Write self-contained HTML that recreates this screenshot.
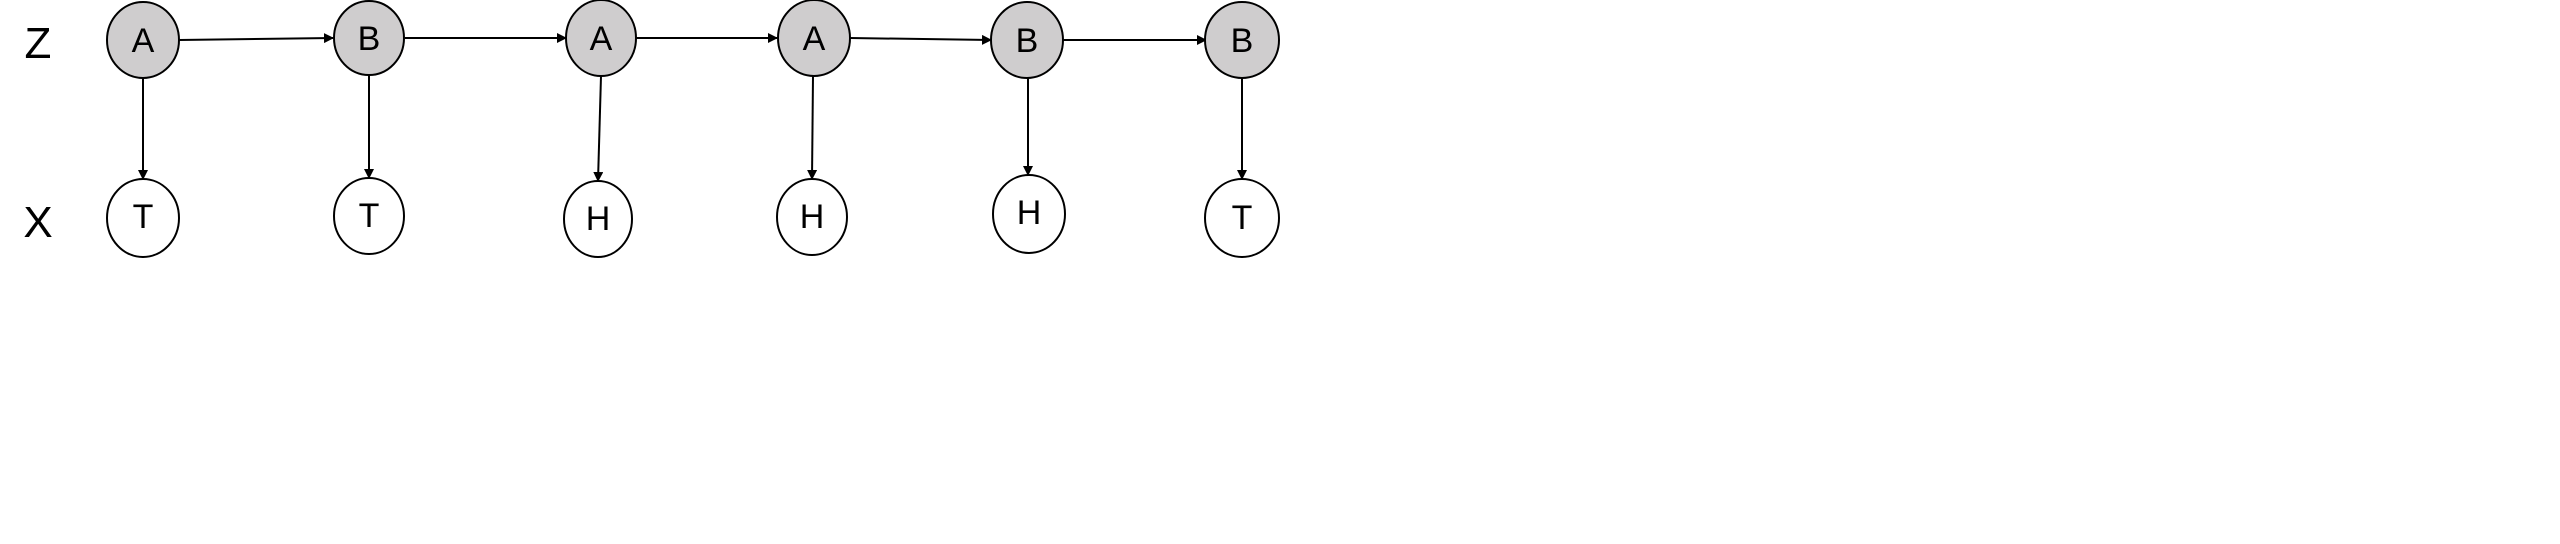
<!DOCTYPE html>
<html><head><meta charset="utf-8"><style>
html,body{margin:0;padding:0;background:#fff;width:2560px;height:544px;overflow:hidden}
svg{display:block}
text{font-family:"Liberation Sans","DejaVu Sans",sans-serif;fill:#000}
</style></head><body>
<svg width="2560" height="544" viewBox="0 0 2560 544" xmlns="http://www.w3.org/2000/svg">
<defs><marker id="ar" markerWidth="10" markerHeight="10" refX="9" refY="5" orient="auto" markerUnits="userSpaceOnUse">
<path d="M0,0 L10,5 L0,10 z" fill="#000"/></marker></defs>
<text x="38" y="58" font-size="44" text-anchor="middle">Z</text>
<text x="38" y="237" font-size="44" text-anchor="middle">X</text>
<g stroke="#000" stroke-width="2" fill="none">
<line x1="179" y1="40" x2="333" y2="38" marker-end="url(#ar)"/>
<line x1="405" y1="38" x2="566" y2="38" marker-end="url(#ar)"/>
<line x1="636" y1="38" x2="777" y2="38" marker-end="url(#ar)"/>
<line x1="850" y1="38" x2="991" y2="40" marker-end="url(#ar)"/>
<line x1="1063" y1="40" x2="1206" y2="40" marker-end="url(#ar)"/>
<line x1="143" y1="78" x2="143" y2="179" marker-end="url(#ar)"/>
<line x1="369" y1="75" x2="369" y2="178" marker-end="url(#ar)"/>
<line x1="601" y1="76" x2="598" y2="181" marker-end="url(#ar)"/>
<line x1="813" y1="76" x2="812" y2="179" marker-end="url(#ar)"/>
<line x1="1028" y1="78" x2="1028" y2="175" marker-end="url(#ar)"/>
<line x1="1242" y1="78" x2="1242" y2="179" marker-end="url(#ar)"/>
</g>
<g stroke="#000" stroke-width="2" fill="#cfcdce">
<ellipse cx="143" cy="40" rx="36" ry="38"/>
<ellipse cx="369" cy="38" rx="35" ry="37"/>
<ellipse cx="601" cy="38" rx="35" ry="38"/>
<ellipse cx="814" cy="38" rx="36" ry="38"/>
<ellipse cx="1027" cy="40" rx="36" ry="38"/>
<ellipse cx="1242" cy="40" rx="37" ry="38"/>
</g>
<g stroke="#000" stroke-width="2" fill="#fff">
<ellipse cx="143" cy="218" rx="36" ry="39"/>
<ellipse cx="369" cy="216" rx="35" ry="38"/>
<ellipse cx="598" cy="219" rx="34" ry="38"/>
<ellipse cx="812" cy="217" rx="35" ry="38"/>
<ellipse cx="1029" cy="214" rx="36" ry="39"/>
<ellipse cx="1242" cy="218" rx="37" ry="39"/>
</g>
<g font-size="34" text-anchor="middle">
<text x="143" y="52">A</text>
<text x="369" y="50">B</text>
<text x="601" y="50">A</text>
<text x="814" y="50">A</text>
<text x="1027" y="52">B</text>
<text x="1242" y="52">B</text>
<text x="143" y="228">T</text>
<text x="369" y="227">T</text>
<text x="598" y="230">H</text>
<text x="812" y="228">H</text>
<text x="1029" y="224">H</text>
<text x="1242" y="229">T</text>
</g>
</svg>
</body></html>
